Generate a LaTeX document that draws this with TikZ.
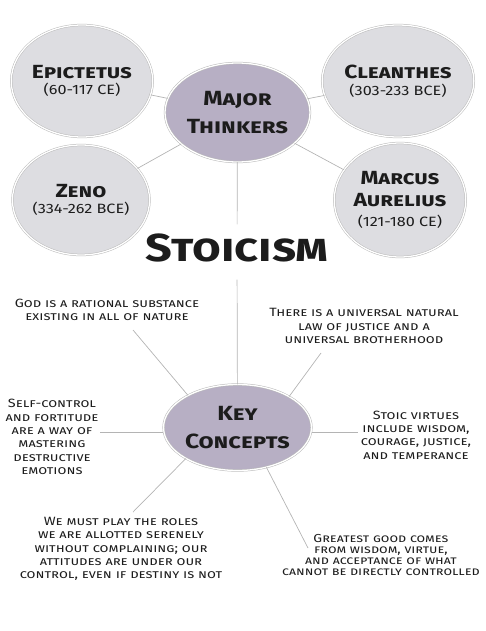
\documentclass[tikz,border=0pt]{standalone}
\usepackage{fontspec}
\setmainfont{Fira Sans}[FakeStretch=1.2]
\usetikzlibrary{shapes.geometric}
\definecolor{bubblegray}{HTML}{DDDDE1}
\definecolor{bubblepurple}{HTML}{B7AFC4}
\definecolor{linegray}{HTML}{B4B4B4}
\definecolor{inkgray}{HTML}{1C1C1C}
\newcommand{\datefont}{\fontsize{13.5}{15}\mdseries\upshape\selectfont}
\tikzset{
  bubble/.style={ellipse, draw=gray!55, double=white, double distance=1.3pt,
    line width=0.5pt, inner sep=0pt, text=inkgray, align=center},
  person/.style={bubble, fill=bubblegray,
    font=\fontsize{19}{21.5}\selectfont\bfseries\scshape},
  hub/.style={bubble, fill=bubblepurple, minimum width=145pt,
    font=\fontsize{20.5}{28}\selectfont\bfseries\scshape},
  idea/.style={align=center, text=inkgray, inner sep=0pt,
    font=\fontsize{12}{13.4}\selectfont\scshape},
  spoke/.style={draw=linegray, line width=0.7pt},
}
\begin{document}
\begin{tikzpicture}[x=1pt,y=-1pt]
\useasboundingbox (0,0) rectangle (486,631);
% thinkers
\node[hub, minimum height=99pt] (major) at (237.5,112.5) {Major\\Thinkers};
\node[person, minimum width=128pt, minimum height=112pt] (epictetus) at (82,81)
  {Epictetus\\[-5pt]{\datefont (60-117 CE)}};
\node[person, minimum width=127pt, minimum height=112pt] (cleanthes) at (398,81)
  {Cleanthes\\[-5pt]{\datefont (303-233 BCE)}};
\node[person, minimum width=125pt, minimum height=110pt] (zeno) at (81,200)
  {Zeno\\[-5pt]{\datefont (334-262 BCE)}};
\node[person, minimum width=130pt, minimum height=114pt] (marcus) at (400,200)
  {Marcus\\Aurelius\\[-1pt]{\datefont (121-180 CE)}};
\draw[spoke] (epictetus) -- (major);
\draw[spoke] (cleanthes) -- (major);
\draw[spoke] (zeno) -- (major);
\draw[spoke] (marcus) -- (major);
% title and concepts
\node[inner xsep=4pt, inner ysep=9pt, text depth=9pt, text=inkgray,
  font=\fontsize{39}{39}\selectfont\bfseries\scshape] (stoicism) at (237,252) {Stoicism};
\node[hub, minimum height=86pt] (key) at (237.5,427.5) {Key\\Concepts};
\draw[spoke] (major) -- (stoicism);
\draw[spoke] (stoicism) -- (key);
\node[idea] (god) at (107,310) {God is a rational substance\\existing in all of nature};
\node[idea] (law) at (364,326) {There is a universal natural\\law of justice and a\\universal brotherhood};
\node[idea] (self) at (52,437) {Self-control\\and fortitude\\are a way of\\mastering\\destructive\\emotions};
\node[idea] (virtues) at (416,435) {Stoic virtues\\include wisdom,\\courage, justice,\\and temperance};
\node[idea] (roles) at (121,549) {We must play the roles\\we are allotted serenely\\without complaining; our\\attitudes are under our\\control, even if destiny is not};
\node[idea, font=\fontsize{11.6}{10.8}\selectfont\scshape] (good) at (381,555) {Greatest good comes\\from wisdom, virtue,\\and acceptance of what\\cannot be directly controlled};
\coordinate (godend) at (133,330);
\coordinate (lawend) at (321,353);
\coordinate (selfend) at (100,432);
\coordinate (virtuesend) at (358,432);
\coordinate (rolesend) at (133,512);
\coordinate (goodend) at (308,548);
\draw[spoke] (key.147) -- (godend);
\draw[spoke] (key.31) -- (lawend);
\draw[spoke] (selfend -| key.west) -- (selfend);
\draw[spoke] (virtuesend -| key.east) -- (virtuesend);
\draw[spoke] (key.211) -- (rolesend);
\draw[spoke] (key.306) -- (goodend);
\end{tikzpicture}
\end{document}
